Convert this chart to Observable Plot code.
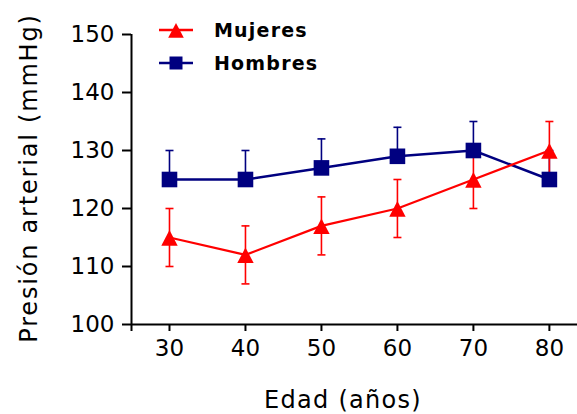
<!DOCTYPE html>
<html>
<head>
<meta charset="utf-8">
<script src="https://cdn.jsdelivr.net/npm/d3@7"></script>
<script src="https://cdn.jsdelivr.net/npm/@observablehq/plot@0.6"></script>
<style>
  html, body { margin: 0; padding: 0; background: #fff; }
  svg { display: block; }
</style>
</head>
<body>
<div id="chart"></div>
<script>
// Presión arterial media por grupo de edad, con desviación estándar
const edades = [30, 40, 50, 60, 70, 80];
const mujeres = [115, 112, 117, 120, 125, 130];
const mujeresDE = [5, 5, 5, 5, 5, 5];
const hombres = [125, 125, 127, 129, 130, 125];
const hombresDE = [5, 5, 5, 5, 5, 5];
const xTicks = [25, 30, 40, 50, 60, 70, 80];
const yTicks = [100, 110, 120, 130, 140, 150];

const ROJO = "#ff0000";
const AZUL = "#000080";
const FONT = "DejaVu Sans, Verdana, sans-serif";

const datosM = edades.map((e, i) => ({edad: e, valor: mujeres[i], de: mujeresDE[i]}));
const datosH = edades.map((e, i) => ({edad: e, valor: hombres[i], de: hombresDE[i]}));

// Símbolos propios: remate de la barra de error, triángulo y cuadrado
const remate = {draw(ctx, size) { const r = Math.sqrt(size / Math.PI); ctx.moveTo(-r, 0); ctx.lineTo(r, 0); }};
const triangulo = {draw(ctx, size) {
  const r = Math.sqrt(size / Math.PI);
  ctx.moveTo(0, -r * 0.9); ctx.lineTo(r, r); ctx.lineTo(-r, r); ctx.closePath();
}};
const cuadrado = {draw(ctx, size) { const r = Math.sqrt(size / Math.PI); ctx.rect(-r, -r, 2 * r, 2 * r); }};

const chart = Plot.plot({
  width: 577,
  height: 414,
  marginLeft: 131,
  marginRight: 0,
  marginTop: 34,
  marginBottom: 90,
  style: {fontFamily: FONT, background: "#fff", color: "#000"},
  x: {domain: [25, 83.7], label: null},
  y: {domain: [100, 150], label: null},
  marks: [
    Plot.axisY({ticks: yTicks, tickSize: 9, tickPadding: 8, fontSize: 23, strokeWidth: 2, label: null, tickFormat: d => String(d), style: {letterSpacing: "0.5px"}}),
    Plot.axisX({ticks: xTicks, tickSize: 7, tickPadding: 8, fontSize: 23, strokeWidth: 2, label: null, tickFormat: d => d === 25 ? "" : String(d), style: {letterSpacing: "0.5px"}}),
    Plot.ruleX([25], {stroke: "#000", strokeWidth: 2}),
    Plot.ruleY([100], {stroke: "#000", strokeWidth: 2}),
    // barras de error
    Plot.ruleX(datosH, {x: "edad", y1: "valor", y2: d => d.valor + d.de, stroke: AZUL, strokeWidth: 1.6}),
    Plot.dot(datosH, {x: "edad", y: d => d.valor + d.de, symbol: remate, r: 4, stroke: AZUL, strokeWidth: 1.6}),
    Plot.ruleX(datosM, {x: "edad", y1: d => d.valor - d.de, y2: d => d.valor + d.de, stroke: ROJO, strokeWidth: 1.6}),
    Plot.dot(datosM, {x: "edad", y: d => d.valor + d.de, symbol: remate, r: 4, stroke: ROJO, strokeWidth: 1.6}),
    Plot.dot(datosM, {x: "edad", y: d => d.valor - d.de, symbol: remate, r: 4, stroke: ROJO, strokeWidth: 1.6}),
    // líneas
    Plot.line(datosH, {x: "edad", y: "valor", stroke: AZUL, strokeWidth: 2.5}),
    Plot.line(datosM, {x: "edad", y: "valor", stroke: ROJO, strokeWidth: 2.2}),
    // marcadores
    Plot.dot(datosH, {x: "edad", y: "valor", symbol: cuadrado, r: 7.8, fill: AZUL, stroke: "none"}),
    Plot.dot(datosM, {x: "edad", y: "valor", symbol: triangulo, r: 8.2, fill: ROJO, stroke: "none"})
  ]
});

const svg = d3.select(chart);

// Títulos de los ejes
svg.append("text")
  .attr("transform", "translate(37,178) rotate(-90)")
  .attr("text-anchor", "middle")
  .style("font-family", FONT).style("font-size", "24px").style("letter-spacing", "1.8px")
  .text("Presión arterial (mmHg)");
svg.append("text")
  .attr("x", 343).attr("y", 408)
  .attr("text-anchor", "middle")
  .style("font-family", FONT).style("font-size", "24px").style("letter-spacing", "1.3px")
  .text("Edad (años)");

// Leyenda
const leyenda = [
  {nombre: "Mujeres", color: ROJO, simbolo: triangulo, y: 30, r: 7.8},
  {nombre: "Hombres", color: AZUL, simbolo: cuadrado, y: 63, r: 6.5}
];
const g = svg.append("g").attr("text-anchor", "start");
leyenda.forEach(item => {
  g.append("line").attr("x1", 159).attr("x2", 193).attr("y1", item.y).attr("y2", item.y)
    .attr("stroke", item.color).attr("stroke-width", 2.5);
  g.append("path").attr("transform", `translate(176,${item.y})`)
    .attr("d", d3.symbol(item.simbolo, Math.PI * item.r * item.r)())
    .attr("fill", item.color);
  g.append("text").attr("x", 214).attr("y", item.y + 7)
    .attr("text-anchor", "start")
    .style("font-family", FONT).style("font-size", "19px").style("font-weight", "bold")
    .style("letter-spacing", "1.2px")
    .text(item.nombre);
});

document.getElementById("chart").appendChild(chart);
</script>
</body>
</html>
